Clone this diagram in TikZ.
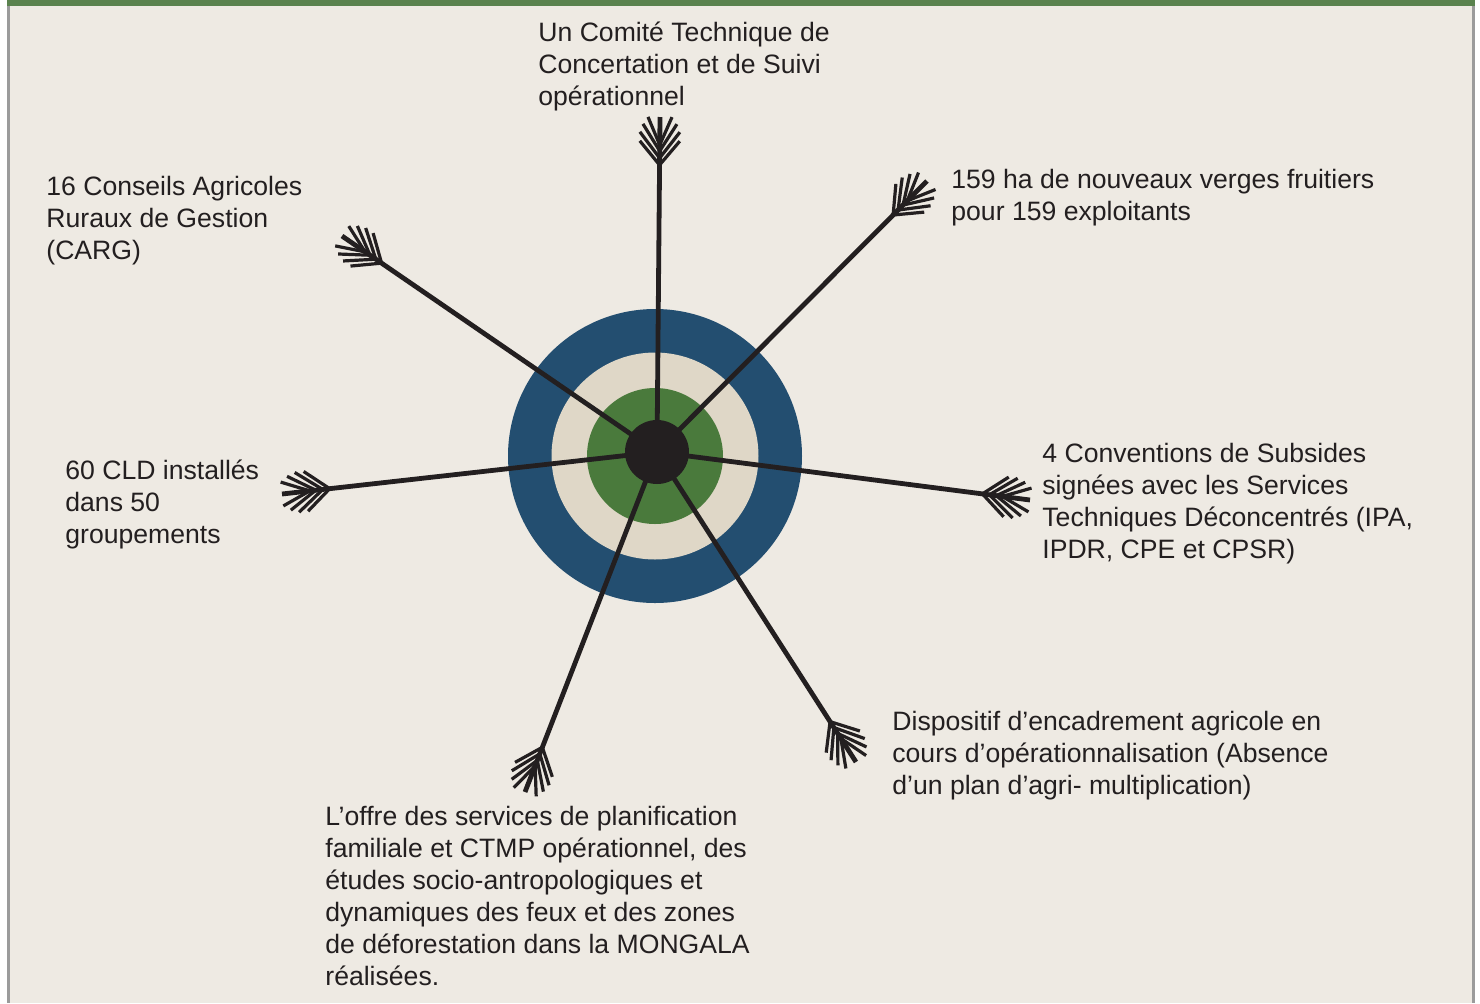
\documentclass[tikz,border=0pt]{standalone}
\usepackage{fontspec}
\setmainfont{Liberation Sans}
\usetikzlibrary{calc}

\definecolor{panelbg}{HTML}{EEEAE3}
\definecolor{barcol}{HTML}{5A824E}
\definecolor{edgecol}{HTML}{9B9B9B}
\definecolor{ringblue}{HTML}{234E70}
\definecolor{ringsand}{HTML}{DFD7C7}
\definecolor{ringgreen}{HTML}{4A7A3C}
\definecolor{ink}{HTML}{231F20}

\tikzset{
  shaft/.style={draw=ink, line width=2.4pt},
  feather/.style={draw=ink, line width=1.6pt},
  label/.style={anchor=base west, align=left, inner sep=0pt, text=ink,
    font=\fontsize{13.3}{16}\selectfont},
}

% feathers at the free end #1 of a shaft coming from #2
\newcommand\fletching[2]{%
  \foreach \d/\s/\w in {14/0/6, 17/3.5/8.5, 20.5/7.5/10, 24/12/10}{
    \draw[feather] ($(#1)!\s pt!(#2)!\w pt!90:(#2)$) -- ($(#1)!\d pt!(#2)$)
      -- ($(#1)!\s pt!(#2)!\w pt!-90:(#2)$);
  }%
}

\begin{document}
\begin{tikzpicture}[x=0.5pt, y=-0.5pt]
      \useasboundingbox (0,0) rectangle (1480,1003);
      \fill[panelbg] (7,0) rectangle (1475,1003);
      \fill[barcol] (7,0) rectangle (1475,6);
      \fill[edgecol] (7,6) rectangle (9.5,1003);
      \fill[edgecol] (1472,6) rectangle (1474.5,1003);

      % target
      \fill[ringblue] (655,456) circle (147);
      \fill[ringsand] (655,456) circle (103.5);
      \fill[ringgreen] (655,456) circle (68);

      \coordinate (hub) at (657,452);
      \coordinate (t1) at (660,117);
      \coordinate (t2) at (927,181);
      \coordinate (t3) at (1030,500);
      \coordinate (t4) at (856,762);
      \coordinate (t5) at (525,792);
      \coordinate (t6) at (282,494);
      \coordinate (t7) at (342,236);

      \draw[shaft] (hub) -- (t1) (hub) -- (t2) (hub) -- (t3) (hub) -- (t4)
        (hub) -- (t5) (hub) -- (t6) (hub) -- (t7);
      \foreach \t in {t1,t2,t3,t4,t5,t6,t7}{
        \fletching{\t}{hub}
      }
      \node[circle, fill=ink, minimum size=32pt, inner sep=0pt] (eye) at (hub) {};

      % labels (placed at the baseline of their last line)
      \node[label] (l1) at (538,105) {Un Comité Technique de\\Concertation et de Suivi\\opérationnel};
      \node[label] (l2) at (951,220) {159 ha de nouveaux verges fruitiers\\pour 159 exploitants};
      \node[label] (l3) at (1042,558) {4 Conventions de Subsides\\signées avec les Services\\Techniques Déconcentrés (IPA,\\IPDR, CPE et CPSR)};
      \node[label] (l4) at (892,794) {Dispositif d’encadrement agricole en\\cours d’opérationnalisation (Absence\\d’un plan d’agri- multiplication)};
      \node[label] (l5) at (325,985) {L’offre des services de planification\\familiale et CTMP opérationnel, des\\études socio-antropologiques et\\dynamiques des feux et des zones\\de déforestation dans la MONGALA\\réalisées.};
      \node[label] (l6) at (65,543) {60 CLD installés\\dans 50\\groupements};
      \node[label] (l7) at (46,259) {16 Conseils Agricoles\\Ruraux de Gestion\\(CARG)};
\end{tikzpicture}
\end{document}
